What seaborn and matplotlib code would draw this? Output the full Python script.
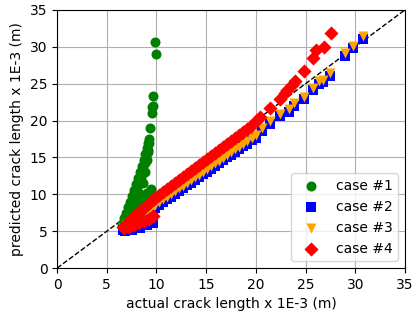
import numpy as np
import pandas as pd
import matplotlib
matplotlib.use("Agg")
import matplotlib.pyplot as plt
import seaborn as sns

# case #1 (green) - steep fan at small crack lengths
c1_x = [6.5, 6.7, 6.9, 7.1, 7.3, 7.5, 7.7, 7.9, 8.1, 8.3, 8.5, 8.7, 8.85, 9.0, 9.1, 9.2,
        6.6, 6.8, 7.0, 7.2, 7.4, 7.6, 7.8, 8.0, 8.2, 8.4, 8.6, 8.8, 8.95, 9.1,
        6.8, 7.2, 7.6, 8.0, 8.35, 8.6, 8.8, 9.0, 9.15, 9.25,
        7.0, 7.4, 7.8, 8.2, 8.6, 9.0,
        7.0, 7.2, 7.6, 8.0, 8.4, 8.8, 9.1, 9.3, 9.4, 9.6,
        9.3, 9.5, 9.55, 9.65, 9.7, 9.85, 9.95]
c1_y = [6.0, 6.8, 7.5, 8.3, 9.0, 9.8, 10.6, 11.4, 12.2, 13.0, 13.8, 14.7, 15.5, 16.3, 17.0, 17.5,
        5.8, 6.5, 7.1, 7.8, 8.5, 9.2, 9.9, 10.7, 11.5, 12.4, 13.3, 14.2, 15.0, 15.8,
        5.8, 6.5, 7.3, 8.5, 10.0, 11.5, 13.0, 14.6, 16.0, 17.0,
        6.0, 7.0, 7.8, 8.6, 9.4, 10.2,
        5.7, 6.0, 6.6, 7.2, 7.8, 8.6, 9.4, 10.2, 10.7, 9.8,
        19.0, 21.0, 21.8, 22.0, 23.3, 30.6, 29.0]

# case #2 (blue)
c2_x = [6.6, 6.9, 7.2, 7.5, 7.8, 8.1, 8.4, 8.7, 9.0, 9.3, 9.6, 9.9, 10.3, 10.7, 11.1,
        11.5, 11.9, 12.3, 12.7, 13.1, 13.5, 13.9, 14.3, 14.7, 15.1, 15.5, 15.9, 16.3,
        16.7, 17.1, 17.5, 17.9, 18.3, 18.7, 19.1, 19.6, 20.0, 20.6, 21.4, 22.4, 23.3,
        23.8, 24.8, 25.8, 26.4, 26.8, 27.5, 29.0, 29.8, 30.8,
        6.8, 7.5, 8.3, 9.0, 9.6]
c2_y = [5.2, 5.5, 5.75, 6.0, 6.3, 6.55, 6.85, 7.1, 7.4, 7.65, 7.95, 8.2, 8.55, 8.95, 9.3,
        9.7, 10.05, 10.45, 10.8, 11.2, 11.55, 11.95, 12.3, 12.7, 13.05, 13.45, 13.85, 14.2,
        14.6, 15.0, 15.35, 15.75, 16.1, 16.5, 16.85, 17.3, 17.7, 18.6, 19.6, 20.6, 21.2,
        22.0, 22.9, 24.1, 25.0, 25.2, 26.1, 28.8, 29.8, 31.1,
        5.0, 5.2, 5.5, 5.8, 6.1]

# case #3 (orange)
c3_x = [6.6, 6.9, 7.2, 7.5, 7.8, 8.1, 8.4, 8.7, 9.0, 9.3, 9.6, 9.9, 10.3, 10.7, 11.1,
        11.5, 11.9, 12.3, 12.7, 13.1, 13.5, 13.9, 14.3, 14.7, 15.1, 15.5, 15.9, 16.3,
        16.7, 17.1, 17.5, 17.9, 18.3, 18.7, 19.1, 19.6, 20.0, 20.6, 21.4, 22.4, 23.3,
        23.8, 24.8, 25.8, 26.4, 26.8, 27.5, 29.0, 29.8, 30.8]
c3_y = [5.5, 5.8, 6.1, 6.35, 6.65, 6.9, 7.2, 7.45, 7.75, 8.0, 8.3, 8.55, 8.9, 9.3, 9.65,
        10.05, 10.4, 10.8, 11.15, 11.55, 11.9, 12.3, 12.65, 13.05, 13.4, 13.8, 14.2, 14.55,
        14.95, 15.35, 15.7, 16.1, 16.45, 16.85, 17.2, 17.65, 18.05, 18.95, 19.95, 20.95, 21.55,
        22.35, 23.25, 24.45, 25.35, 25.55, 26.45, 29.15, 30.15, 31.45]

# case #4 (red)
c4_x = [6.6, 6.9, 7.2, 7.5, 7.8, 8.1, 8.4, 8.7, 9.0, 9.3, 9.6, 9.9, 10.3, 10.7, 11.1,
        11.5, 11.9, 12.3, 12.7, 13.1, 13.5, 13.9, 14.3, 14.7, 15.1, 15.5, 15.9, 16.3,
        16.7, 17.1, 17.5, 17.9, 18.3, 18.7, 19.1, 19.5, 20.0, 20.4, 21.4, 22.4, 22.9,
        23.1, 23.6, 23.9, 24.8, 25.8, 26.1, 26.9, 27.6,
        6.7, 7.2, 7.7, 8.2, 8.7, 9.2, 9.6]
c4_y = [5.6, 6.0, 6.4, 6.8, 7.1, 7.5, 7.85, 8.2, 8.55, 8.9, 9.2, 9.55, 9.95, 10.35, 10.75,
        11.15, 11.55, 11.95, 12.35, 12.75, 13.15, 13.55, 13.95, 14.35, 14.75, 15.15, 15.6, 16.0,
        16.4, 16.8, 17.25, 17.65, 18.05, 18.5, 18.9, 19.3, 19.9, 20.5, 21.7, 22.9, 23.8,
        24.2, 24.8, 25.3, 26.7, 28.5, 29.6, 30.0, 31.9,
        5.4, 5.6, 5.9, 6.1, 6.4, 6.7, 7.0]

cases = ["case #1", "case #2", "case #3", "case #4"]
colors = {"case #1": "green", "case #2": "blue", "case #3": "orange", "case #4": "red"}
markers = {"case #1": "o", "case #2": "s", "case #3": "v", "case #4": "D"}

df = pd.concat([
    pd.DataFrame({"x": c1_x, "y": c1_y, "case": cases[0]}),
    pd.DataFrame({"x": c2_x, "y": c2_y, "case": cases[1]}),
    pd.DataFrame({"x": c3_x, "y": c3_y, "case": cases[2]}),
    pd.DataFrame({"x": c4_x, "y": c4_y, "case": cases[3]}),
], ignore_index=True)

fig = plt.figure(figsize=(4.2, 3.11), dpi=100)
ax = fig.add_axes([0.136, 0.138, 0.828, 0.83])

for c in cases:
    sub = df[df["case"] == c]
    sns.scatterplot(data=sub, x="x", y="y", color=colors[c], marker=markers[c],
                    s=52, linewidth=0, label=c, ax=ax, zorder=3)

ax.plot([0, 35], [0, 35], "k--", lw=1, zorder=2)
ax.set_xlim(0, 35)
ax.set_ylim(0, 35)
ax.set_xticks(range(0, 36, 5))
ax.set_yticks(range(0, 36, 5))
ax.grid(True, color="#b0b0b0", lw=0.8, zorder=0)
ax.set_axisbelow(True)
ax.set_xlabel("actual crack length x 1E-3 (m)")
ax.set_ylabel("predicted crack length x 1E-3 (m)")
ax.legend(loc="lower right")

fig.savefig("out.png", dpi=100)
